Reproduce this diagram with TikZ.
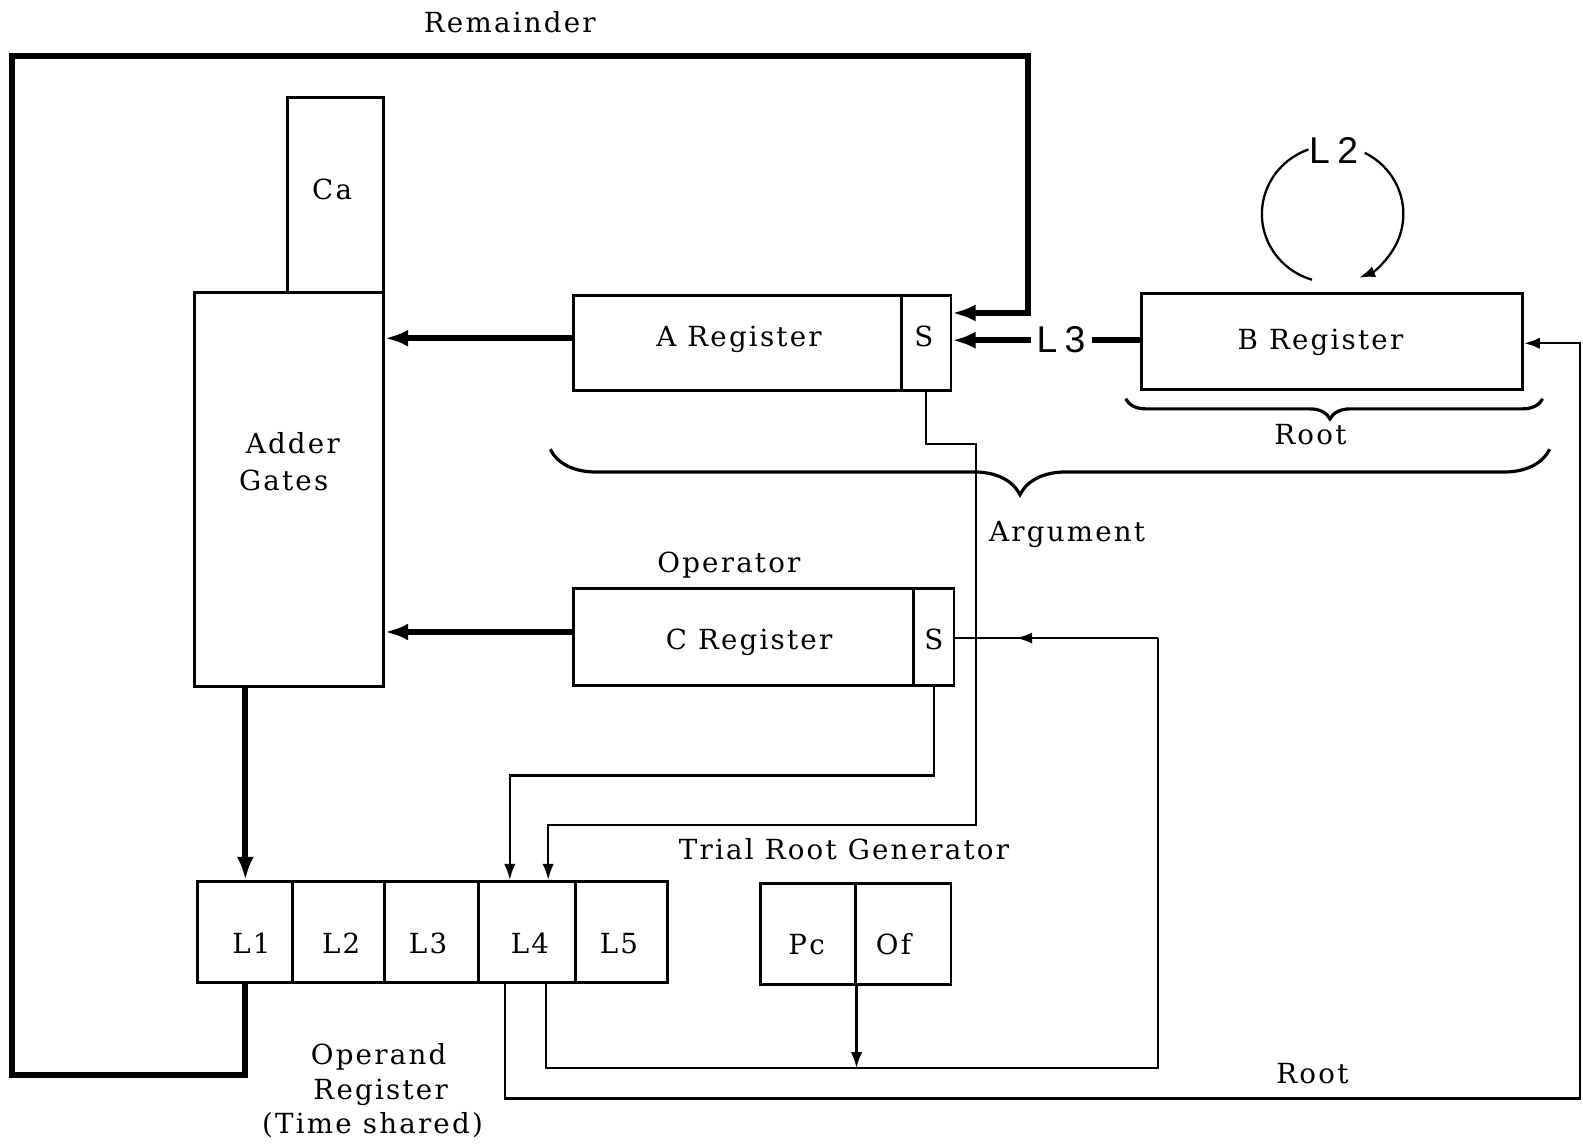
\documentclass[tikz,border=0pt]{standalone}
\usepackage{fontspec}
\setmainfont{DejaVu Serif}[LetterSpace=8]
\newfontfamily\handfont{Liberation Sans}[LetterSpace=20]
\usetikzlibrary{arrows.meta,decorations.pathreplacing,decorations.markings}
\begin{document}
\begin{tikzpicture}[x=0.01cm,y=-0.01cm,
  box/.style={draw, line width=0.8pt, inner sep=0pt},
  lbl/.style={anchor=base, inner sep=0pt, font=\fontsize{7.8}{9}\selectfont},
  hand/.style={anchor=base, inner sep=1.5pt, font=\handfont\fontsize{10.5}{12}\selectfont},
  conn/.style={line width=0.65pt},
  heavy/.style={line width=1.7pt},
  arr/.style={-{Latex[length=4.5pt,width=3.2pt]}},
  harr/.style={-{Latex[length=6.5pt,width=4.8pt]}},
  midarr/.style={postaction={decorate}, decoration={markings, mark=at position #1 with {\arrow{Latex[length=4.5pt,width=3.2pt]}}}},
  brc/.style 2 args={line width=0.9pt, decorate, decoration={brace, mirror, amplitude=#1, aspect=#2}},
]
\useasboundingbox (0,0) rectangle (1568,1133);

% boxes
\node[box, minimum width=0.95cm, minimum height=1.93cm] (Ca) at (332.5,193.5) {};
\node[box, minimum width=1.87cm, minimum height=3.90cm] (AG) at (286.5,485) {};
\node[box, minimum width=3.25cm, minimum height=0.94cm] (A) at (730.5,340) {};
\node[box, minimum width=0.49cm, minimum height=0.94cm] (AS) at (917.5,340) {};
\node[box, minimum width=3.77cm, minimum height=0.95cm] (B) at (1319.5,338.5) {};
\node[box, minimum width=3.37cm, minimum height=0.96cm] (C) at (736.5,631) {};
\node[box, minimum width=0.40cm, minimum height=0.96cm] (CS) at (925,631) {};
\node[box, minimum width=0.94cm, minimum height=1.00cm] (L1) at (243,923) {};
\node[box, minimum width=0.91cm, minimum height=1.00cm] (L2) at (335.5,923) {};
\node[box, minimum width=0.93cm, minimum height=1.00cm] (L3) at (427.5,923) {};
\node[box, minimum width=0.96cm, minimum height=1.00cm] (L4) at (522,923) {};
\node[box, minimum width=0.91cm, minimum height=1.00cm] (L5) at (615.5,923) {};
\node[box, minimum width=0.94cm, minimum height=1.00cm] (Pc) at (800,925) {};
\node[box, minimum width=0.95cm, minimum height=1.00cm] (Of) at (894.5,925) {};

% labels
\node[lbl] (tRem) at (505,32) {Remainder};
\node[lbl] (tCa) at (329,198) {Ca};
\node[lbl] (tAdder) at (290,449) {Adder};
\node[lbl] (tGates) at (281,486) {Gates};
\node[lbl] (tA) at (732,343) {A Register};
\node[lbl] (tAS) at (915,343) {S};
\node[lbl] (tB) at (1308,346) {B Register};
\node[hand] (lthree) at (1051,349) {L3};
\node[hand] (ltwo) at (1321,162) {L2};
\node[lbl] (tRoot1) at (1298,440) {Root};
\node[lbl] (tArg) at (1057,536) {Argument};
\node[lbl] (tOp) at (722,567) {Operator};
\node[lbl] (tC) at (742,643) {C Register};
\node[lbl] (tCS) at (925,643) {S};
\node[lbl] (tTrg) at (836,851) {Trial Root Generator};
\node[lbl] (tL1) at (249,944) {L1};
\node[lbl] (tL2) at (338,944) {L2};
\node[lbl] (tL3) at (424,944) {L3};
\node[lbl] (tL4) at (525,944) {L4};
\node[lbl] (tL5) at (613,944) {L5};
\node[lbl] (tPc) at (799,945) {Pc};
\node[lbl] (tOf) at (885,945) {Of};
\node[lbl] (tOpd1) at (375,1054) {Operand};
\node[lbl] (tOpd2) at (377,1089) {Register};
\node[lbl] (tOpd3) at (369,1123) {(Time shared)};
\node[lbl] (tRoot2) at (1300,1073) {Root};

% heavy connectors
\draw[heavy, harr] (L1.south) -- (L1.south |- 0,1065) -- (12,1065) -- (12,55) -- (1018,55) -- (1018,310) -- (AS.east |- 0,310);
\draw[heavy, harr] (A.west |- 0,335) -- (AG.east |- 0,335);
\draw[heavy, harr] (C.west |- 0,626) -- (AG.east |- 0,626);
\draw[heavy, harr] (AG.south -| L1.north) -- (L1.north);
\draw[heavy] (B.west |- 0,337) -- (lthree.east |- 0,337);
\draw[heavy, harr] (lthree.west |- 0,337) -- (AS.east |- 0,337);

% L2 loop
\coordinate (lc) at (1320,212);
\draw[conn] (lc) ++(253:0.70cm and 0.68cm) arc[start angle=253, end angle=110, x radius=0.70cm, y radius=0.68cm];
\draw[conn, arr] (lc) ++(63:0.70cm and 0.68cm) arc[start angle=63, end angle=-68, x radius=0.70cm, y radius=0.68cm];

% thin connectors
\draw[conn, arr] (AS.south) |- (967,440) |- (543,817) -- (L4.north -| 543,0);
\draw[conn, arr] (CS.south) |- (505,768) -- (L4.north -| 505,0);
\draw[conn, arr] (L4.south -| 500,0) |- (1565,1088) |- (B.east |- 0,340);
\draw[conn] (L4.south -| 541,0) |- (1147,1058) -- (1147,632);
\draw[conn, midarr=0.7] (1147,632) -- (CS.east |- 0,632);
\draw[conn, arr] (Pc.south east) -- (Pc.south east |- 0,1058);

% braces
\draw[brc={0.2cm}{0.49}] (1115,395) -- (1528,395);
\draw[brc={0.45cm}{0.47}] (545,445) -- (1535,445);
\end{tikzpicture}
\end{document}
